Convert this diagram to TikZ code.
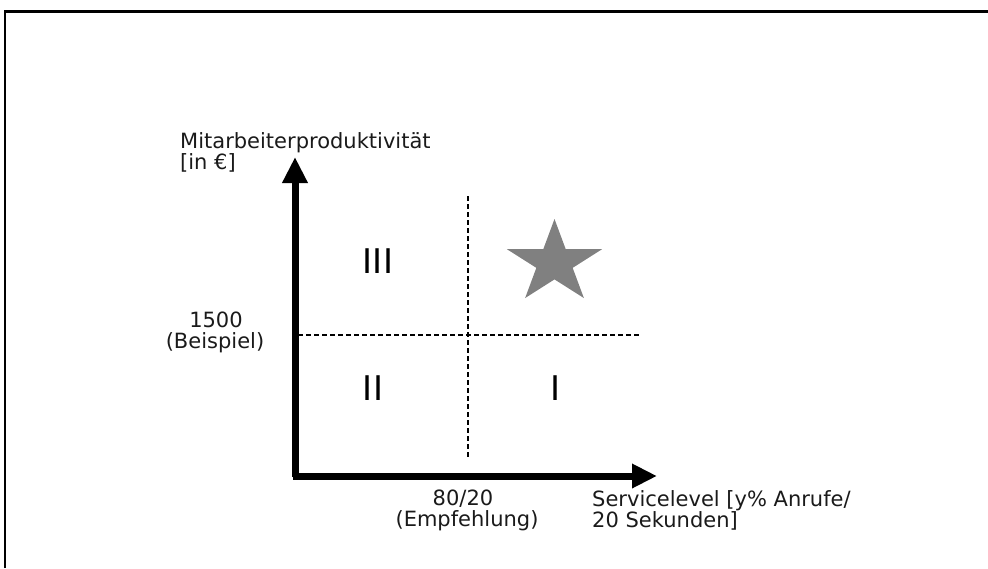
\documentclass[tikz,border=0pt]{standalone}
\usepackage{fontspec}
\setmainfont{DejaVu Sans}
\usetikzlibrary{arrows.meta}
\definecolor{stargray}{HTML}{808080}
\definecolor{textblack}{HTML}{1A1A1A}
\tikzset{
  axisline/.style={line width=7pt},
  quadline/.style={line width=1.5pt, dash pattern=on 5pt off 3pt},
  lbl/.style={inner sep=0pt, text=textblack, font=\fontsize{21}{22}\selectfont},
  roman/.style={inner sep=0pt, font=\fontsize{34}{36}\selectfont},
  framebar/.style={line width=2.6pt}
}
\begin{document}
\begin{tikzpicture}[x=1pt,y=-1pt]
\useasboundingbox (0,0) rectangle (988,568);
% outer frame (only top and left visible)
\coordinate (fbl) at (5,568);
\coordinate (ftl) at (5,11.2);
\coordinate (ftr) at (988,11.2);
\draw[framebar] (fbl) -- (ftl) -- (ftr);
% axes
\coordinate (origin) at (295,476);
\coordinate (ytip) at (295,157);
\coordinate (xtip) at (657,476);
\coordinate (ostart) at (295,472.5);
\draw[axisline, -{Triangle[length=26pt,width=24pt]}] (origin) ++(0,1) -- (ytip);
\draw[axisline, -{Triangle[length=25pt,width=23pt]}] (ostart |- origin) ++(-2,0) -- (xtip);
% quadrant dividers
\coordinate (hl) at (298,335);
\coordinate (hr) at (640,335);
\coordinate (vt) at (468,196);
\coordinate (vb) at (468,458);
\draw[quadline] (hl) -- (hr);
\draw[quadline] (vt) -- (vb);
% quadrant labels
\node[roman] (q3) at (378,261) {III};
\node[roman] (q2) at (373,388) {II};
\node[roman] (q1) at (556,388) {I};
% star
\fill[stargray, shift={(554.5,262.7)}, yscale=-0.874]
  (90:50) -- (126:19.1) -- (162:50) -- (198:19.1) -- (234:50) -- (270:19.1)
  -- (306:50) -- (342:19.1) -- (18:50) -- (54:19.1) -- cycle;
% axis labels
\node[lbl, anchor=base west] (ylab1) at (180,148) {Mitarbeiterproduktivität};
\node[lbl, anchor=base west] (ylab2) at (180,169) {[in €]};
\node[lbl, anchor=base] (ymark1) at (216,327) {1500};
\node[lbl, anchor=base] (ymark2) at (215,348) {(Beispiel)};
\node[lbl, anchor=base] (xmark1) at (463,505) {80/20};
\node[lbl, anchor=base] (xmark2) at (467,526) {(Empfehlung)};
\node[lbl, anchor=base west] (xlab1) at (592,506) {Servicelevel [y\% Anrufe/};
\node[lbl, anchor=base west] (xlab2) at (592,527) {20 Sekunden]};
\end{tikzpicture}
\end{document}
